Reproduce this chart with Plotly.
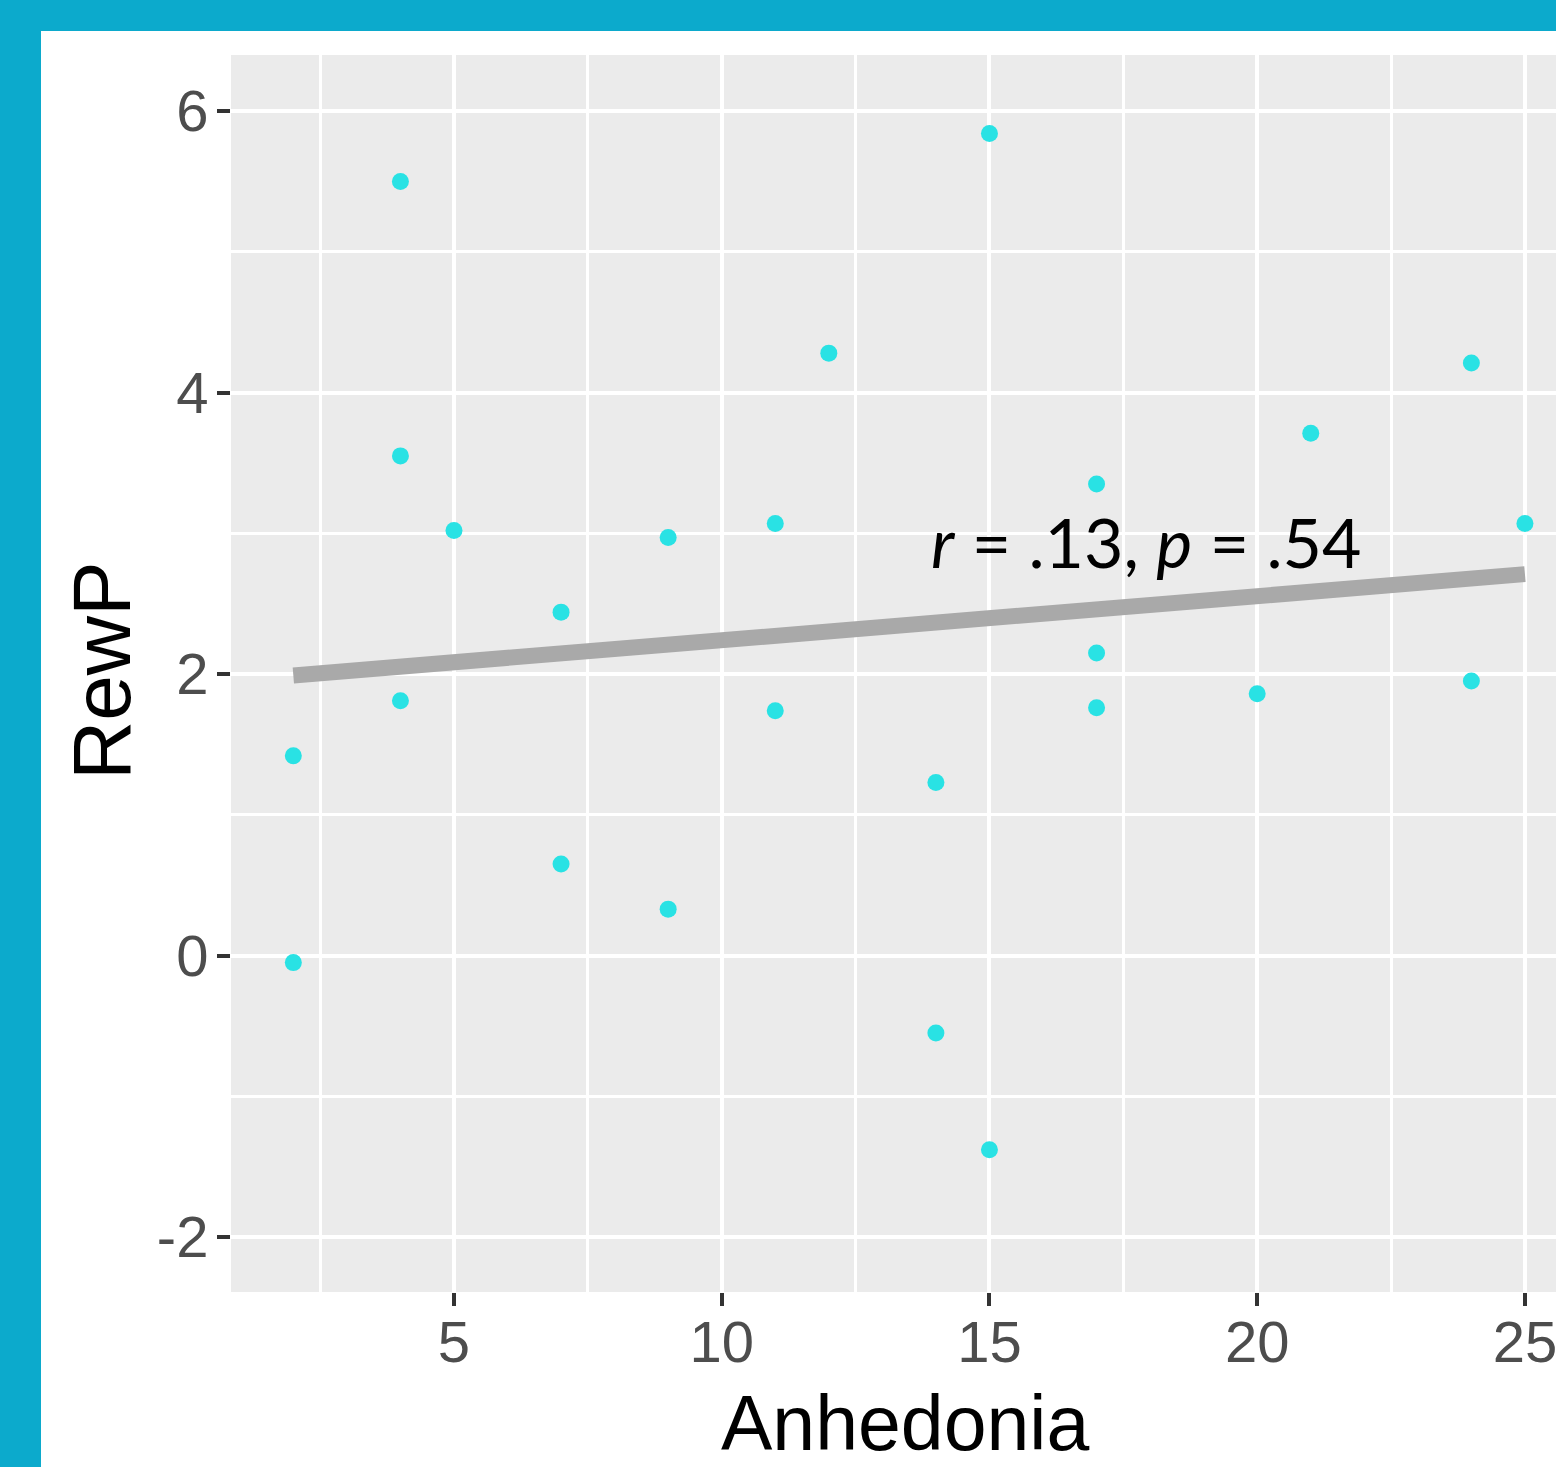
import plotly.graph_objects as go

# Data
anhedonia = [2, 2, 4, 4, 4, 5, 7, 7, 9, 9, 11, 11, 12, 14, 14, 15, 15, 17, 17, 17, 20, 21, 24, 24, 25]
rewp = [1.42, -0.05, 5.50, 3.55, 1.81, 3.02, 2.44, 0.65, 2.97, 0.33, 3.07, 1.74, 4.28, 1.23, -0.55,
        5.84, -1.38, 3.35, 2.15, 1.76, 1.86, 3.71, 4.21, 1.95, 3.07]
fit_x = [2, 25]
fit_y = [1.99, 2.71]
x_ticks = [5, 10, 15, 20, 25]
x_tick_text = ["5", "10", "15", "20", "25"]
y_ticks = [-2, 0, 2, 4, 6]
y_tick_text = ["-2", "0", "2", "4", "6"]
stat_label = "<i>r</i> = .13, <i>p</i> = .54"
x_title = "Anhedonia"
y_title = "RewP"

W, H = 1556, 1467
L, T, B, R = 231, 55, 175, 0
pw, ph = W - L - R, H - T - B

fig = go.Figure()
fig.add_trace(go.Scatter(x=fit_x, y=fit_y, mode="lines",
                         line=dict(color="#A9A9A9", width=16), showlegend=False, hoverinfo="skip"))
fig.add_trace(go.Scatter(x=anhedonia, y=rewp, mode="markers",
                         marker=dict(color="#29E2E4", size=17, line=dict(width=0)), showlegend=False))

fig.add_annotation(x=13.87, y=2.94, xref="x", yref="y", text=stat_label, showarrow=False,
                   xanchor="left", yanchor="middle",
                   font=dict(family="Lato", size=68, color="black"))

# axis titles
fig.add_annotation(x=(905 - L) / pw, y=(T + ph - 1423) / ph, xref="paper", yref="paper",
                   text=x_title, showarrow=False, xanchor="center", yanchor="middle",
                   font=dict(family="Liberation Sans", size=77, color="black"))
fig.add_annotation(x=(101 - L) / pw, y=(T + ph - 671) / ph, xref="paper", yref="paper",
                   text=y_title, showarrow=False, xanchor="center", yanchor="middle", textangle=-90,
                   font=dict(family="Liberation Sans", size=82, color="black"))

teal = "#0CAACC"
# top band (pixels 0-31) and left band (pixels 0-41)
fig.add_shape(type="rect", xref="paper", yref="paper", layer="above",
              x0=-L / pw, x1=(W - L) / pw, y0=1 + (T - 31) / ph, y1=1 + T / ph,
              fillcolor=teal, line=dict(width=0))
fig.add_shape(type="rect", xref="paper", yref="paper", layer="above",
              x0=-L / pw, x1=-(L - 41) / pw, y0=-B / ph, y1=1 + T / ph,
              fillcolor=teal, line=dict(width=0))

axis_common = dict(showgrid=True, gridcolor="white", gridwidth=3.5, zeroline=False,
                   ticks="outside", ticklen=13, tickwidth=4, tickcolor="#333333",
                   tickfont=dict(family="Liberation Sans", size=58, color="#4D4D4D"),
                   showline=False, automargin=False, ticklabeloverflow="allow")

fig.update_layout(
    width=W, height=H,
    margin=dict(l=L, r=R, t=T, b=B, pad=0),
    paper_bgcolor="white", plot_bgcolor="#EBEBEB",
    xaxis=dict(range=[0.836, 25.58], tickvals=x_ticks, ticktext=x_tick_text,
               minor=dict(showgrid=True, gridcolor="white", gridwidth=3, dtick=2.5, tick0=0),
               ticklabelstandoff=-14,
               **axis_common),
    yaxis=dict(range=[-2.39, 6.398], tickvals=y_ticks, ticktext=y_tick_text,
               minor=dict(showgrid=True, gridcolor="white", gridwidth=3, dtick=1, tick0=0),
               ticklabelstandoff=-3,
               **axis_common),
)

fig.write_html("out.html", config={"displayModeBar": False},
               post_script="document.body.style.margin='0px';")
